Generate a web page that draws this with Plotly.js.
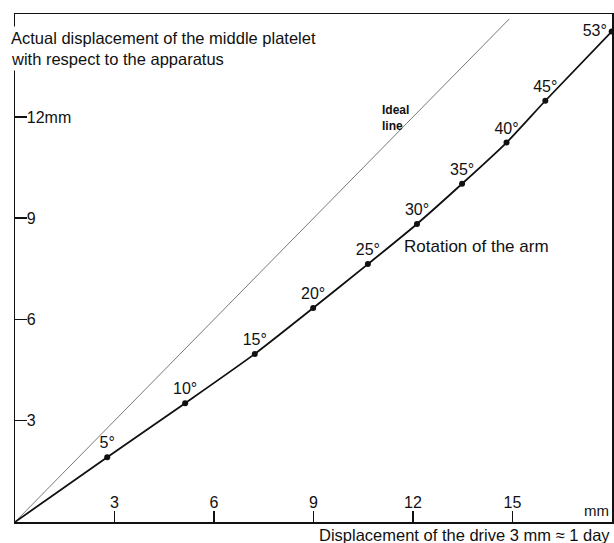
<!DOCTYPE html>
<html>
<head>
<meta charset="utf-8">
<script src="https://cdn.plot.ly/plotly-3.0.1.min.js"></script>
<style>
  html, body { margin: 0; padding: 0; background: #fff; }
  #chart { width: 614px; height: 543px; }
</style>
</head>
<body>
<div id="chart"></div>
<script>
// Drive displacement (mm) against the actual displacement of the middle platelet (mm)
const armAngles   = ['5°', '10°', '15°', '20°', '25°', '30°', '35°', '40°', '45°', '53°'];
const driveMm     = [2.78, 5.13, 7.23, 8.99, 10.64, 12.12, 13.48, 14.82, 15.99, 17.99];
const plateletMm  = [1.92, 3.52, 4.98, 6.34, 7.64, 8.83, 10.02, 11.24, 12.48, 14.53];

// Ideal 1:1 line
const idealX = [0, 14.9];
const idealY = [0, 14.9];

const xTickVals = [3, 6, 9, 12, 15];
const xTickText = ['3', '6', '9', '12', '15'];
const yTickVals = [3, 6, 9, 12];
const yTickText = ['3', '6', '9', '12mm'];

const FONT = '"Liberation Sans", Arial, Helvetica, sans-serif';
const INK = '#111';

const labelPos = armAngles.map((a, i) => i === armAngles.length - 1 ? 'middle left' : 'top center');

const traces = [
  {
    x: idealX, y: idealY, mode: 'lines', type: 'scatter',
    line: { color: '#555', width: 0.8 }, hoverinfo: 'skip'
  },
  {
    x: [0].concat(driveMm), y: [0].concat(plateletMm), mode: 'lines', type: 'scatter',
    line: { color: INK, width: 1.8, shape: 'spline', smoothing: 0.6 }, hoverinfo: 'skip'
  },
  {
    x: driveMm, y: plateletMm, mode: 'markers+text', type: 'scatter',
    marker: { color: INK, size: 6 },
    text: armAngles, textposition: labelPos,
    textfont: { family: FONT, size: 16, color: INK },
    cliponaxis: false
  }
];

const layout = {
  width: 614, height: 543,
  margin: { l: 15, r: 2, t: 14, b: 21 },
  paper_bgcolor: '#fff', plot_bgcolor: '#fff',
  showlegend: false,
  font: { family: FONT, color: INK, size: 14 },
  xaxis: {
    range: [0, 18], showgrid: false, zeroline: false,
    showline: true, mirror: true, linecolor: INK, linewidth: 1.5,
    ticks: 'inside', ticklen: 11, tickwidth: 1.5, tickcolor: INK,
    tickvals: xTickVals, ticktext: xTickText,
    ticklabelposition: 'inside', tickfont: { family: FONT, size: 16, color: INK }
  },
  yaxis: {
    range: [0, 15.05], showgrid: false, zeroline: false,
    showline: true, mirror: true, linecolor: INK, linewidth: 1.5,
    ticks: 'inside', ticklen: 12, tickwidth: 1.5, tickcolor: INK,
    tickvals: yTickVals, ticktext: yTickText,
    ticklabelposition: 'inside', tickfont: { family: FONT, size: 16, color: INK }
  },
  annotations: [
    { xref: 'paper', yref: 'paper', x: -0.012, y: 0.953, xanchor: 'left', yanchor: 'middle',
      text: 'Actual displacement of the middle platelet', showarrow: false,
      bgcolor: '#fff', borderpad: 2, font: { family: FONT, size: 16.5, color: INK } },
    { xref: 'paper', yref: 'paper', x: -0.012, y: 0.912, xanchor: 'left', yanchor: 'middle',
      text: 'with respect to the apparatus', showarrow: false,
      bgcolor: '#fff', borderpad: 2, font: { family: FONT, size: 16.5, color: INK } },
    { xref: 'paper', yref: 'paper', x: 1.0, y: -0.026, xanchor: 'right', yanchor: 'middle',
      text: 'Displacement of the drive 3 mm ≈ 1 day', showarrow: false,
      font: { family: FONT, size: 16.5, color: INK } },
    { xref: 'x', yref: 'y', x: 17.52, y: 0.34, xanchor: 'center', yanchor: 'middle',
      text: 'mm', showarrow: false, font: { family: FONT, size: 15, color: INK } },
    { xref: 'x', yref: 'y', x: 11.0, y: 11.97, xanchor: 'left', yanchor: 'middle', align: 'left',
      text: '<b>Ideal</b><br><b>line</b>', showarrow: false, font: { family: FONT, size: 12, color: INK } },
    { xref: 'x', yref: 'y', x: 11.67, y: 8.15, xanchor: 'left', yanchor: 'middle',
      text: 'Rotation of the arm', showarrow: false, font: { family: FONT, size: 17, color: INK } }
  ]
};

Plotly.newPlot('chart', traces, layout, { staticPlot: true, displayModeBar: false });
</script>
</body>
</html>
